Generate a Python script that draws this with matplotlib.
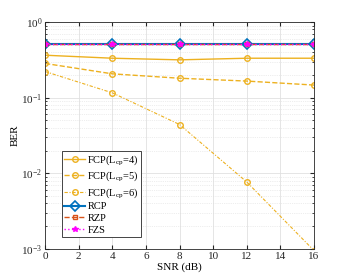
import matplotlib.pyplot as plt
import matplotlib.ticker as mticker

plt.rcParams['font.family'] = 'Liberation Serif'
plt.rcParams['mathtext.fontset'] = 'custom'
plt.rcParams['mathtext.rm'] = 'Liberation Serif'
plt.rcParams['mathtext.it'] = 'Liberation Serif'

snr = [0, 4, 8, 12, 16]
fcp4 = [0.365, 0.333, 0.317, 0.333, 0.333]
fcp5 = [0.284, 0.207, 0.181, 0.166, 0.147]
fcp6 = [0.222, 0.116, 0.0442, 0.00767, 0.00095]
rcp = [0.516, 0.516, 0.516, 0.516, 0.516]
rzp = [0.516, 0.516, 0.516, 0.516, 0.516]
fzs = [0.516, 0.516, 0.516, 0.516, 0.516]

yel = '#EDB120'

fig = plt.figure(figsize=(3.47, 2.8), dpi=100)
ax = fig.add_axes([0.13, 0.111, 0.775, 0.81])

ax.plot(snr, fcp4, '-o', color=yel, lw=1, ms=4, mfc='none', label='FCP(L$_{\\mathrm{cp}}$=4)')
ax.plot(snr, fcp5, '--o', color=yel, lw=1, ms=4, mfc='none', label='FCP(L$_{\\mathrm{cp}}$=5)')
ax.plot(snr, fcp6, color=yel, ls=(0, (3, 1.5, 1, 1.5)), lw=0.8, marker='o', ms=4, mfc='none',
        label='FCP(L$_{\\mathrm{cp}}$=6)')
ax.plot(snr, rcp, '-D', color='#0072BD', lw=1.5, ms=5, mfc='none', mew=1.2, label='RCP')
ax.plot(snr, rzp, '--s', color='#D95319', lw=1, ms=3.5, mfc='none', label='RZP')
ax.plot(snr, fzs, ':*', color='#FF00FF', lw=1, ms=4, label='FZS')

ax.set_yscale('log')
ax.set_xlim(0, 16)
ax.set_ylim(1e-3, 1)
ax.set_xticks(range(0, 17, 2))
ax.yaxis.set_major_locator(mticker.LogLocator(base=10, numticks=10))
ax.yaxis.set_minor_locator(mticker.LogLocator(base=10, subs=range(2, 10), numticks=10))
ax.yaxis.set_minor_formatter(mticker.NullFormatter())
ax.set_xlabel('SNR (dB)', fontsize=8, labelpad=1)
ax.set_ylabel('BER', fontsize=8, labelpad=1)
ax.tick_params(which='both', direction='in', top=True, right=True, labelsize=8, colors='#262626', pad=2)
ax.tick_params(which='major', length=3)
ax.tick_params(which='minor', length=1.5)
ax.grid(True, which='major', color='#e0e0e0', lw=0.6)
ax.grid(True, which='minor', axis='y', color='#dddddd', lw=0.5, ls=':')
ax.set_axisbelow(True)
for s in ax.spines.values():
    s.set_color('#262626')
    s.set_linewidth(0.6)

leg = ax.legend(loc='lower left', bbox_to_anchor=(0.062, 0.052), fontsize=7.5, handlelength=2.0,
                handletextpad=0.2, labelspacing=0.22, borderpad=0.25, borderaxespad=0,
                fancybox=False, framealpha=1)
leg.get_frame().set_edgecolor('#262626')
leg.get_frame().set_linewidth(0.6)

fig.savefig('out.png', dpi=100)
